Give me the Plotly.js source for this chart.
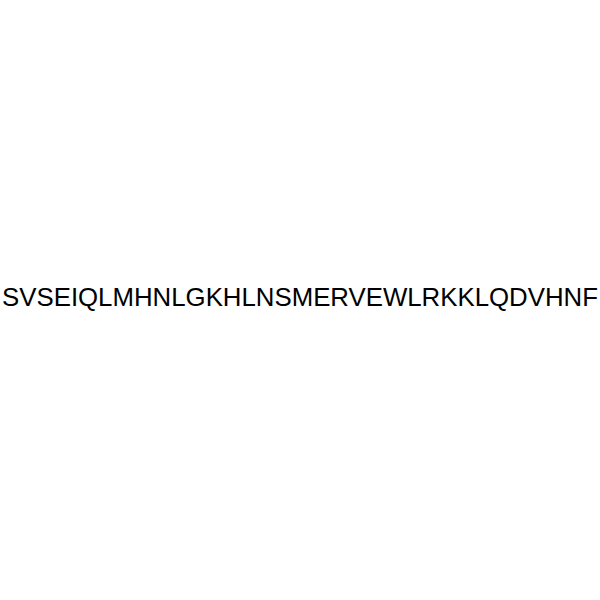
<!DOCTYPE html>
<html>
<head>
<meta charset="utf-8">
<script src="https://cdn.plot.ly/plotly-3.0.1.min.js"></script>
<style>
  html, body { margin: 0; padding: 0; background: #ffffff; }
  #chart { width: 600px; height: 600px; }
</style>
</head>
<body>
<div id="chart"></div>
<script>
// secuencia mostrada en el centro
const etiquetas = ['SVSEIQLMHNLGKHLNSMERVEWLRKKLQDVHNF'];
const posX = [0];
const posY = [0];

const trazas = [{
    x: posX,
    y: posY,
    text: etiquetas,
    type: 'scatter',
    mode: 'text',
    textposition: 'middle center',
    textfont: { family: 'Liberation Sans, Arial, sans-serif', size: 25.8, color: '#000000' },
    hoverinfo: 'none',
    showlegend: false
}];

const layout = {
    width: 600,
    height: 600,
    paper_bgcolor: '#ffffff',
    plot_bgcolor: '#ffffff',
    margin: { l: 0, r: 0, t: 0, b: 0 },
    xaxis: { range: [-1, 1], visible: false, fixedrange: true },
    yaxis: { range: [-1, 1], visible: false, fixedrange: true },
    showlegend: false
};

Plotly.newPlot('chart', trazas, layout, { displayModeBar: false, staticPlot: true });
</script>
</body>
</html>
